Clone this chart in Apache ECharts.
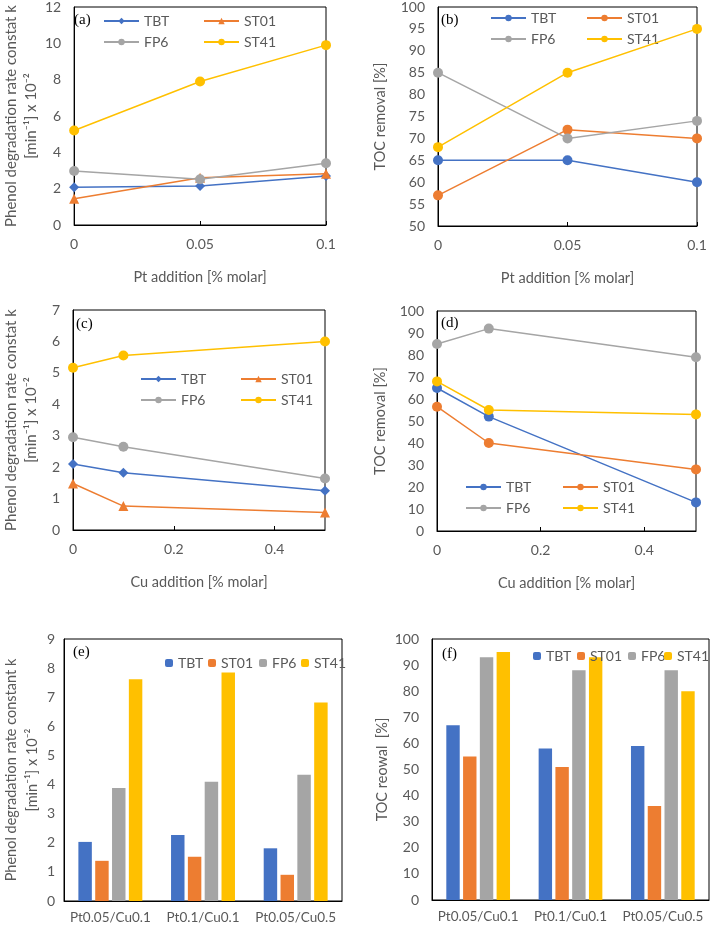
<!DOCTYPE html>
<html>
<head>
<meta charset="utf-8">
<script src="https://cdn.jsdelivr.net/npm/echarts@6/dist/echarts.min.js"></script>
<style>
html,body{margin:0;padding:0;background:#fff;}
#c{width:711px;height:925px;}
</style>
</head>
<body>
<div id="c"></div>
<script>
// ---- data ----
const seriesNames = ['TBT', 'ST01', 'FP6', 'ST41'];
const ptAdd = [0, 0.05, 0.1];
const cuAdd = [0, 0.1, 0.5];
const barCats = ['Pt0.05/Cu0.1', 'Pt0.1/Cu0.1', 'Pt0.05/Cu0.5'];

const kPtTBT = [2.08, 2.15, 2.7];
const kPtST01 = [1.45, 2.6, 2.82];
const kPtFP6 = [2.97, 2.52, 3.4];
const kPtST41 = [5.2, 7.9, 9.9];

const tocPtTBT = [65, 65, 60];
const tocPtST01 = [57, 72, 70];
const tocPtFP6 = [85, 70, 74];
const tocPtST41 = [68, 85, 95];

const kCuTBT = [2.1, 1.82, 1.25];
const kCuST01 = [1.48, 0.76, 0.56];
const kCuFP6 = [2.95, 2.65, 1.64];
const kCuST41 = [5.16, 5.55, 6.0];

const tocCuTBT = [65, 52, 13];
const tocCuST01 = [56.5, 40, 28];
const tocCuFP6 = [85, 92, 79];
const tocCuST41 = [68, 55, 53];

const kBarTBT = [2.03, 2.27, 1.81];
const kBarST01 = [1.38, 1.52, 0.9];
const kBarFP6 = [3.88, 4.1, 4.34];
const kBarST41 = [7.62, 7.85, 6.82];

const tocBarTBT = [67, 58, 59];
const tocBarST01 = [55, 51, 36];
const tocBarFP6 = [93, 88, 88];
const tocBarST41 = [95, 93, 80];

const panelLetters = ['(a)', '(b)', '(c)', '(d)', '(e)', '(f)'];
const yNameK = 'Phenol degradation rate constat k\n[min\u207B\u00B9] x 10\u207B\u00B2';
const yNameK2 = 'Phenol degradation rate constant k\n[min\u207B\u00B9] x 10\u207B\u00B2';
const yNameToc = 'TOC removal [%]';
const yNameToc2 = 'TOC reowal  [%]';
const xNamePt = 'Pt addition [% molar]';
const xNameCu = 'Cu addition [% molar]';

// ---- style ----
const colors = ['#4472C4', '#ED7D31', '#A5A5A5', '#FFC000'];
const FONT = 'Lato, "DejaVu Sans", sans-serif';
const GRAY = '#595959';

const grids = [
  {left: 69, top: 5, width: 257, height: 220},
  {left: 438, top: 5, width: 259, height: 221},
  {left: 69, top: 310, width: 256, height: 220},
  {left: 437, top: 311, width: 259, height: 220},
  {left: 63, top: 639, width: 279, height: 262},
  {left: 432, top: 639, width: 277, height: 261}
].map(g => Object.assign({show: true, borderColor: '#000', borderWidth: 1, backgroundColor: 'transparent'}, g));

function valX(i, min, max, interval, name, showMax) {
  return {
    gridIndex: i, type: 'value', min: min, max: max, interval: interval,
    axisLine: {show: true, lineStyle: {color: '#000', width: 1}},
    axisTick: {show: true, inside: true, length: 4, lineStyle: {color: '#000'}},
    axisLabel: {color: GRAY, fontSize: 14, fontFamily: FONT, margin: 12, showMaxLabel: showMax},
    splitLine: {show: false},
    name: name, nameLocation: 'middle', nameGap: 45,
    nameTextStyle: {color: GRAY, fontSize: 14.5, fontFamily: FONT}
  };
}
function catX(i) {
  return {
    gridIndex: i, type: 'category', data: barCats,
    axisLine: {show: true, lineStyle: {color: '#000', width: 1}},
    axisTick: {show: false},
    axisLabel: {color: GRAY, fontSize: 13.5, fontFamily: FONT, margin: 10, interval: 0, hideOverlap: false}
  };
}
function valY(i, min, max, interval, name, gap, fs, lh, margin) {
  return {
    gridIndex: i, type: 'value', min: min, max: max, interval: interval,
    axisLine: {show: true, lineStyle: {color: '#000', width: 1}},
    axisTick: {show: false},
    axisLabel: {color: GRAY, fontSize: 14, fontFamily: FONT, margin: margin},
    splitLine: {show: false},
    name: name, nameLocation: 'middle', nameGap: gap,
    nameTextStyle: {color: GRAY, fontSize: fs, lineHeight: lh, fontFamily: FONT}
  };
}

const xAxes = [
  valX(0, 0, 0.1, 0.05, xNamePt, true),
  valX(1, 0, 0.1, 0.05, xNamePt, true),
  valX(2, 0, 0.5, 0.2, xNameCu, false),
  valX(3, 0, 0.5, 0.2, xNameCu, false),
  catX(4),
  catX(5)
];
const yAxes = [
  valY(0, 0, 12, 2, yNameK, 32, 15, 20, 13),
  valY(1, 50, 100, 5, yNameToc, 50, 14.5, 16, 13),
  valY(2, 0, 7, 1, yNameK, 32, 15, 20, 13),
  valY(3, 0, 100, 10, yNameToc, 49, 14.5, 16, 13),
  valY(4, 0, 9, 1, yNameK2, 20, 14.5, 21, 9),
  valY(5, 0, 100, 10, yNameToc2, 41, 14.5, 16, 13)
];

function zip(xs, ys) { return xs.map((x, j) => [x, ys[j]]); }

const series = [];
const lineSets = [
  {p: 'a', xs: ptAdd, ys: [kPtTBT, kPtST01, kPtFP6, kPtST41], shapes: ['diamond', 'triangle', 'circle', 'circle']},
  {p: 'b', xs: ptAdd, ys: [tocPtTBT, tocPtST01, tocPtFP6, tocPtST41], shapes: ['circle', 'circle', 'circle', 'circle']},
  {p: 'c', xs: cuAdd, ys: [kCuTBT, kCuST01, kCuFP6, kCuST41], shapes: ['diamond', 'triangle', 'circle', 'circle']},
  {p: 'd', xs: cuAdd, ys: [tocCuTBT, tocCuST01, tocCuFP6, tocCuST41], shapes: ['circle', 'circle', 'circle', 'circle']}
];
lineSets.forEach((set, i) => {
  set.ys.forEach((ys, k) => {
    const shp = set.shapes[k];
    series.push({
      name: seriesNames[k] + '-' + set.p,
      type: 'line', xAxisIndex: i, yAxisIndex: i,
      data: zip(set.xs, ys),
      symbol: shp, symbolSize: 10,
      showAllSymbol: true,
      lineStyle: {color: colors[k], width: 1.5},
      itemStyle: {color: colors[k]},
      z: 2 + k
    });
  });
});
const barSets = [
  {p: 'e', ys: [kBarTBT, kBarST01, kBarFP6, kBarST41]},
  {p: 'f', ys: [tocBarTBT, tocBarST01, tocBarFP6, tocBarST41]}
];
barSets.forEach((set, j) => {
  const i = 4 + j;
  set.ys.forEach((ys, k) => {
    series.push({
      name: seriesNames[k] + '-' + set.p,
      type: 'bar', xAxisIndex: i, yAxisIndex: i,
      data: ys,
      barGap: '25%', barCategoryGap: '31%',
      itemStyle: {color: colors[k]}
    });
  });
});

const legendText = {color: GRAY, fontSize: 14, fontFamily: FONT, lineHeight: 14};
function lineLegend(names, left, top) {
  return {
    data: names, left: left, top: top, orient: 'vertical', itemGap: 7,
    itemWidth: 35, itemHeight: 8, padding: 0, selectedMode: false,
    textStyle: legendText, formatter: n => n.split('-')[0]
  };
}
function barLegend(name, left, top) {
  return {
    data: [name], left: left, top: top, orient: 'horizontal',
    itemWidth: 8, itemHeight: 8, padding: 0, selectedMode: false,
    textStyle: legendText, formatter: n => n.split('-')[0]
  };
}
const legends = [
  lineLegend(['TBT-a', 'FP6-a'], 103, 14), lineLegend(['ST01-a', 'ST41-a'], 203, 14),
  lineLegend(['TBT-b', 'FP6-b'], 490, 11), lineLegend(['ST01-b', 'ST41-b'], 586, 11),
  lineLegend(['TBT-c', 'FP6-c'], 140, 372), lineLegend(['ST01-c', 'ST41-c'], 240, 372),
  lineLegend(['TBT-d', 'FP6-d'], 465, 480), lineLegend(['ST01-d', 'ST41-d'], 562, 480),
  barLegend('TBT-e', 165, 656), barLegend('ST01-e', 208, 656), barLegend('FP6-e', 259, 656), barLegend('ST41-e', 301, 656),
  barLegend('TBT-f', 533, 649), barLegend('ST01-f', 577, 649), barLegend('FP6-f', 628, 649), barLegend('ST41-f', 664, 649)
];

const letterPos = [[74, 13], [441, 13], [76, 317], [441, 316], [73, 645], [442, 647]];
const titles = panelLetters.map((t, i) => ({
  text: t, left: letterPos[i][0], top: letterPos[i][1], padding: 0,
  textStyle: {fontFamily: '"Liberation Serif", serif', fontSize: 15, fontWeight: 'normal', color: '#000'}
}));

const chart = echarts.init(document.getElementById('c'), null, {renderer: 'canvas'});
chart.setOption({
  animation: false,
  backgroundColor: '#fff',
  title: titles,
  legend: legends,
  grid: grids,
  xAxis: xAxes,
  yAxis: yAxes,
  series: series
});
</script>
</body>
</html>
